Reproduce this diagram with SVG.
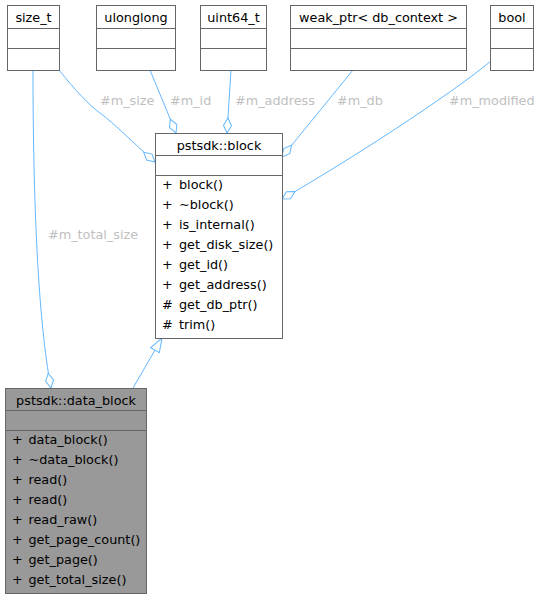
<svg xmlns="http://www.w3.org/2000/svg" width="543" height="599" viewBox="0 0 543 599">
<style>
.box{fill:#ffffff;stroke:#666666;stroke-width:1}
.boxd{fill:#999999;stroke:#666666;stroke-width:1}
.sep{stroke:#666666;stroke-width:1}
text{font-family:"DejaVu Sans","Liberation Sans",sans-serif;font-size:12.8px;fill:#000000}
.c{text-anchor:middle}
.lbl{fill:#c0c0c0}
.e{fill:none;stroke:#63b8ff;stroke-width:1}
.ag{marker-end:url(#dia)}
</style>
<defs>
<marker id="dia" markerUnits="userSpaceOnUse" markerWidth="18" markerHeight="12" refX="15.5" refY="6" orient="auto" overflow="visible">
<path d="M0.5,6 L8,2 L15.5,6 L8,10 Z" fill="#ffffff" stroke="#63b8ff" stroke-width="1"/>
</marker>
<marker id="tri" markerUnits="userSpaceOnUse" markerWidth="18" markerHeight="14" refX="15" refY="7" orient="auto" overflow="visible">
<path d="M1,2 L15,7 L1,12 Z" fill="#ffffff" stroke="#63b8ff" stroke-width="1"/>
</marker>
</defs>
<g id="connectors">
<path class="e ag" d="M33,70 C33,200 38,320 51,388"/>
<path class="e ag" d="M59,70 C75,90 90,106 100,113 C115,124 132,142 155,162"/>
<path class="e ag" d="M150,70 L176,133"/>
<path class="e ag" d="M231,70 L227,133"/>
<path class="e ag" d="M353,70 L282,157"/>
<path class="e ag" d="M491,61 C450,95 350,160 282,199"/>
<path class="e" marker-end="url(#tri)" d="M133,388 L162,338"/>
<text class="lbl" x="48" y="239">#m_total_size</text>
<text class="lbl" x="100" y="105">#m_size</text>
<text class="lbl" x="170" y="105">#m_id</text>
<text class="lbl" x="235" y="105">#m_address</text>
<text class="lbl" x="337" y="105">#m_db</text>
<text class="lbl" x="449" y="105">#m_modified</text>
</g>
<g id="size_t">
<rect class="box" x="7.5" y="5.5" width="52" height="65"/>
<line class="sep" x1="7.5" y1="28.5" x2="59.5" y2="28.5"/>
<line class="sep" x1="7.5" y1="48.5" x2="59.5" y2="48.5"/>
<text class="c" x="33.5" y="22">size_t</text>
</g>
<g id="ulonglong">
<rect class="box" x="96.5" y="5.5" width="79" height="65"/>
<line class="sep" x1="96.5" y1="28.5" x2="175.5" y2="28.5"/>
<line class="sep" x1="96.5" y1="48.5" x2="175.5" y2="48.5"/>
<text class="c" x="136" y="22">ulonglong</text>
</g>
<g id="uint64_t">
<rect class="box" x="200.5" y="5.5" width="66" height="65"/>
<line class="sep" x1="200.5" y1="28.5" x2="266.5" y2="28.5"/>
<line class="sep" x1="200.5" y1="48.5" x2="266.5" y2="48.5"/>
<text class="c" x="233.5" y="22">uint64_t</text>
</g>
<g id="weak_ptr">
<rect class="box" x="290.5" y="5.5" width="176" height="65"/>
<line class="sep" x1="290.5" y1="28.5" x2="466.5" y2="28.5"/>
<line class="sep" x1="290.5" y1="48.5" x2="466.5" y2="48.5"/>
<text class="c" x="378.5" y="22">weak_ptr&lt; db_context &gt;</text>
</g>
<g id="bool">
<rect class="box" x="490.5" y="5.5" width="43" height="65"/>
<line class="sep" x1="490.5" y1="28.5" x2="533.5" y2="28.5"/>
<line class="sep" x1="490.5" y1="48.5" x2="533.5" y2="48.5"/>
<text class="c" x="512" y="22">bool</text>
</g>
<g id="block">
<rect class="box" x="155.5" y="133.5" width="127" height="205"/>
<line class="sep" x1="155.5" y1="155.5" x2="282.5" y2="155.5"/>
<line class="sep" x1="155.5" y1="175.5" x2="282.5" y2="175.5"/>
<text class="c" x="219" y="149.5">pstsdk::block</text>
<text x="162" y="189">+</text><text x="179" y="189">block()</text>
<text x="162" y="209">+</text><text x="179" y="209">~block()</text>
<text x="162" y="229">+</text><text x="179" y="229">is_internal()</text>
<text x="162" y="249">+</text><text x="179" y="249">get_disk_size()</text>
<text x="162" y="269">+</text><text x="179" y="269">get_id()</text>
<text x="162" y="289">+</text><text x="179" y="289">get_address()</text>
<text x="162" y="309">#</text><text x="179" y="309">get_db_ptr()</text>
<text x="162" y="329">#</text><text x="179" y="329">trim()</text>
</g>
<g id="data_block">
<rect class="boxd" x="5.5" y="388.5" width="141" height="205"/>
<line class="sep" x1="5.5" y1="410.5" x2="146.5" y2="410.5"/>
<line class="sep" x1="5.5" y1="430.5" x2="146.5" y2="430.5"/>
<text class="c" x="76" y="404.5">pstsdk::data_block</text>
<text x="12" y="444">+</text><text x="28.5" y="444">data_block()</text>
<text x="12" y="464">+</text><text x="28.5" y="464">~data_block()</text>
<text x="12" y="484">+</text><text x="28.5" y="484">read()</text>
<text x="12" y="504">+</text><text x="28.5" y="504">read()</text>
<text x="12" y="524">+</text><text x="28.5" y="524">read_raw()</text>
<text x="12" y="544">+</text><text x="28.5" y="544">get_page_count()</text>
<text x="12" y="564">+</text><text x="28.5" y="564">get_page()</text>
<text x="12" y="584">+</text><text x="28.5" y="584">get_total_size()</text>
</g>
</svg>
